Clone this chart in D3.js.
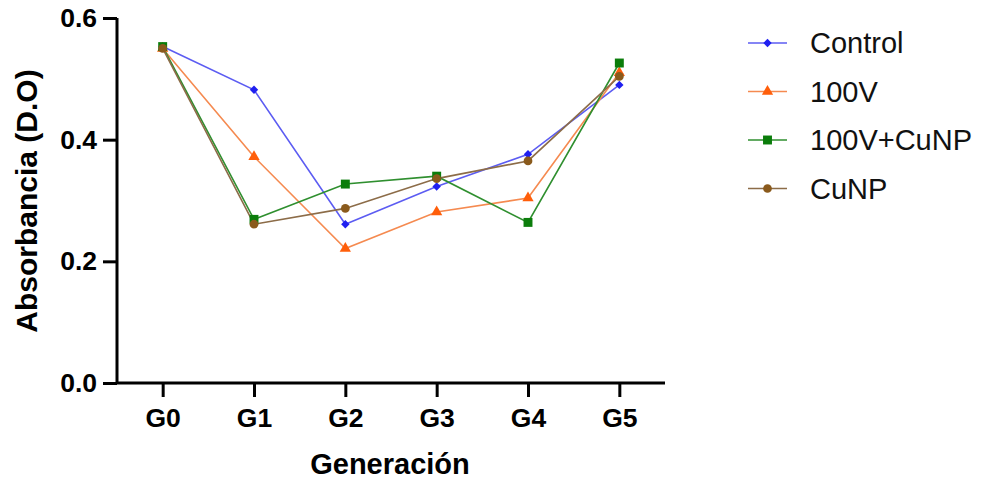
<!DOCTYPE html>
<html><head><meta charset="utf-8">
<script src="https://cdn.jsdelivr.net/npm/d3@7/dist/d3.min.js"></script>
<style>html,body{margin:0;padding:0;background:#fff}</style>
</head><body>
<svg id="c" width="984" height="479"></svg>
<script>
const categories = ["G0","G1","G2","G3","G4","G5"];
const seriesNames = ["Control","100V","100V+CuNP","CuNP"];
const control = [0.553,0.482,0.261,0.323,0.376,0.490];
const v100 = [0.550,0.372,0.221,0.281,0.304,0.510];
const v100cunp = [0.553,0.269,0.327,0.340,0.264,0.526];
const cunp = [0.550,0.261,0.287,0.336,0.365,0.504];
const yTicks = [0.0,0.2,0.4,0.6];

const styles = [
  {line:"#5c5cf2", fill:"#1f1ff0", sym:d3.symbolDiamond2, size:45},
  {line:"#f58a50", fill:"#ff5e0a", sym:d3.symbolTriangle, size:55},
  {line:"#2f8f2f", fill:"#0b7d0b", sym:d3.symbolSquare, size:80},
  {line:"#8c6c48", fill:"#8a5a1c", sym:d3.symbolCircle, size:60}
];
const series = [control, v100, v100cunp, cunp];

const svg = d3.select("#c");
const x = d3.scalePoint().domain(categories).range([117,665]).padding(0.5);
const y = d3.scaleLinear().domain([0,0.6]).range([383,18]);
const font = "'Liberation Sans', Arial, sans-serif";

// axes
const yAxis = svg.append("g").attr("transform","translate(117,0)")
  .call(d3.axisLeft(y).tickValues(yTicks).tickFormat(d3.format(".1f")).tickSize(14).tickPadding(6));
const xAxis = svg.append("g").attr("transform","translate(0,383)")
  .call(d3.axisBottom(x).tickSize(14).tickPadding(11));
[yAxis,xAxis].forEach(g=>{
  g.select(".domain").attr("stroke","#000").attr("stroke-width",3);
  g.selectAll(".tick line").attr("stroke","#000").attr("stroke-width",3);
  g.selectAll(".tick text").attr("fill","#000").style("font-family",font)
    .style("font-weight","bold").style("font-size","26.5px");
});
xAxis.select(".domain").attr("d","M117,0H665");
yAxis.select(".domain").attr("d","M0,18V383");

svg.append("text").attr("x",390).attr("y",474).attr("text-anchor","middle")
  .style("font-family",font).style("font-weight","bold").style("font-size","29px")
  .text("Generación");
svg.append("text").attr("transform","translate(37,201) rotate(-90)").attr("text-anchor","middle")
  .style("font-family",font).style("font-weight","bold").style("font-size","30px")
  .text("Absorbancia (D.O)");

const line = d3.line().x((d,i)=>x(categories[i])).y(d=>y(d));
series.forEach((s,k)=>{
  const st = styles[k];
  svg.append("path").datum(s).attr("d",line).attr("fill","none")
    .attr("stroke",st.line).attr("stroke-width",1.6);
});
series.forEach((s,k)=>{
  const st = styles[k];
  svg.append("g").selectAll("path").data(s).join("path")
    .attr("transform",(d,i)=>`translate(${x(categories[i])},${y(d)})`)
    .attr("d",d3.symbol().type(st.sym).size(st.size)).attr("fill",st.fill);
});

// legend
const leg = svg.append("g");
seriesNames.forEach((n,k)=>{
  const st = styles[k];
  const yy = 43 + k*48.5;
  leg.append("line").attr("x1",748).attr("x2",787).attr("y1",yy).attr("y2",yy)
    .attr("stroke",st.line).attr("stroke-width",1.6);
  leg.append("path").attr("transform",`translate(767.5,${yy})`)
    .attr("d",d3.symbol().type(st.sym).size(st.size)).attr("fill",st.fill);
  leg.append("text").attr("x",810).attr("y",yy).attr("dy","0.35em")
    .style("font-family",font).style("font-size","29px").attr("fill","#111").text(n);
});
</script>
</body></html>
